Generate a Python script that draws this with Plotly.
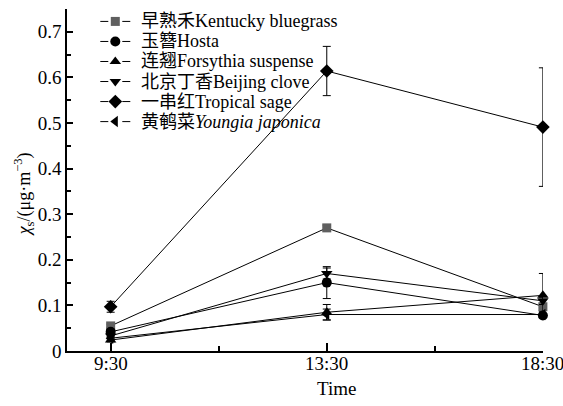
import plotly.graph_objects as go

# Sampling times and mean concentrations (with standard errors) per plant species
times = ["9:30", "13:30", "18:30"]
time_pos = [0, 1, 2]

species = [
    "早熟禾Kentucky bluegrass",
    "玉簪Hosta",
    "连翘Forsythia suspense",
    "北京丁香Beijing clove",
    "一串红Tropical sage",
    "黄鹌菜<i>Youngia japonica</i>",
]

kentucky = [0.055, 0.270, 0.097]
kentucky_err = [0.004, 0.006, 0.008]
hosta = [0.042, 0.150, 0.078]
hosta_err = [0.005, 0.035, 0.006]
forsythia = [0.024, 0.085, 0.122]
forsythia_err = [0.004, 0.017, 0.048]
beijing = [0.033, 0.170, 0.110]
beijing_err = [0.004, 0.012, 0.008]
sage = [0.097, 0.614, 0.491]
sage_err = [0.012, 0.054, 0.130]
youngia = [0.028, 0.080, 0.080]
youngia_err = [0.004, 0.012, 0.006]

values = [kentucky, hosta, forsythia, beijing, sage, youngia]
errors = [kentucky_err, hosta_err, forsythia_err, beijing_err, sage_err, youngia_err]

symbols = ["square", "circle", "triangle-up", "triangle-down", "diamond", "triangle-left"]
marker_colors = ["#5f5f5f", "black", "black", "black", "black", "black"]
marker_sizes = [9, 10, 10, 10, 10.5, 10]

FONT = "Liberation Serif, Noto Sans CJK SC, serif"

fig = go.Figure()

for vals, errs, sym, col, size in zip(values, errors, symbols, marker_colors, marker_sizes):
    fig.add_trace(go.Scatter(
        x=time_pos, y=vals,
        mode="lines+markers",
        line=dict(color="black", width=1),
        marker=dict(symbol=sym, size=size, color=col, line=dict(width=0)),
        error_y=dict(type="data", array=errs, visible=True,
                     color="black", thickness=1, width=4),
        cliponaxis=False,
        showlegend=False,
    ))

# Legend drawn on a pixel-like overlay axis (x: left->right, y: top->bottom)
L_X0, L_X1 = 66.7, 542.7
L_Y0, L_Y1 = 350.7, 9.3
row_y0, row_dy = 21.7, 20.0
sym_x, seg_half, seg_gap = 115.0, 15.0, 7.0
text_x = 139.0

for i, (name, sym, col, size) in enumerate(zip(species, symbols, marker_colors, marker_sizes)):
    yy = row_y0 + i * row_dy
    fig.add_trace(go.Scatter(
        x=[sym_x - seg_half, sym_x - seg_gap, None, sym_x + seg_gap, sym_x + seg_half],
        y=[yy, yy, None, yy, yy],
        mode="lines", line=dict(color="black", width=1),
        xaxis="x2", yaxis="y2", showlegend=False, hoverinfo="skip",
    ))
    fig.add_trace(go.Scatter(
        x=[sym_x], y=[yy], mode="markers",
        marker=dict(symbol=sym, size=size, color=col, line=dict(width=0)),
        xaxis="x2", yaxis="y2", showlegend=False, hoverinfo="skip",
    ))
    fig.add_annotation(
        x=text_x, y=yy, xref="x2", yref="y2", text=name, showarrow=False,
        xanchor="left", yanchor="middle",
        font=dict(family=FONT, size=18, color="black"),
    )

# Time-of-day labels under the x axis
for pos, label in zip(time_pos, times):
    fig.add_annotation(
        x=pos, y=(L_Y0 - 363) / (L_Y0 - L_Y1), xref="x", yref="paper",
        text=label, showarrow=False, xanchor="center", yanchor="middle",
        font=dict(family=FONT, size=19, color="black"),
    )

# Axis titles
fig.add_annotation(
    x=(23 - L_X0) / (L_X1 - L_X0), y=(L_Y0 - 194) / (L_Y0 - L_Y1),
    xref="paper", yref="paper", showarrow=False, textangle=-90,
    xanchor="center", yanchor="middle",
    text="<i>χ</i><sub>s</sub>/(μg·m<sup>−3</sup>)",
    font=dict(family=FONT, size=18, color="black"),
)
fig.add_annotation(
    x=(336 - L_X0) / (L_X1 - L_X0), y=(L_Y0 - 388) / (L_Y0 - L_Y1),
    xref="paper", yref="paper", showarrow=False,
    xanchor="center", yanchor="middle", text="Time",
    font=dict(family=FONT, size=19, color="black"),
)

fig.update_layout(
    width=563, height=406,
    margin=dict(l=67, r=20, t=9, b=55, autoexpand=False),
    paper_bgcolor="white", plot_bgcolor="white",
    font=dict(family=FONT, size=19, color="black"),
    showlegend=False,
    xaxis=dict(
        range=[-0.202, 2.0005], tickvals=time_pos,
        showticklabels=False, automargin=False,
        showgrid=False, zeroline=False,
        showline=True, linecolor="black", linewidth=1.5,
        ticks="inside", ticklen=8, tickwidth=1.5, tickcolor="black",
        minor=dict(tickvals=[0.5, 1.5], ticks="inside", ticklen=5,
                   tickwidth=1.5, tickcolor="black"),
    ),
    yaxis=dict(
        range=[0, 0.75], dtick=0.1, tick0=0, automargin=False,
        showgrid=False, zeroline=False,
        showline=True, linecolor="black", linewidth=1.5,
        ticks="inside", ticklen=6, tickwidth=1.5, tickcolor="black",
        minor=dict(dtick=0.05, ticks="inside", ticklen=4,
                   tickwidth=1.5, tickcolor="black"),
        tickfont=dict(family=FONT, size=19),
    ),
    xaxis2=dict(range=[L_X0, L_X1], overlaying="x", visible=False,
                anchor="y2", fixedrange=True),
    yaxis2=dict(range=[L_Y0, L_Y1], overlaying="y", visible=False,
                anchor="x2", fixedrange=True),
)

fig.write_html("out.html")
